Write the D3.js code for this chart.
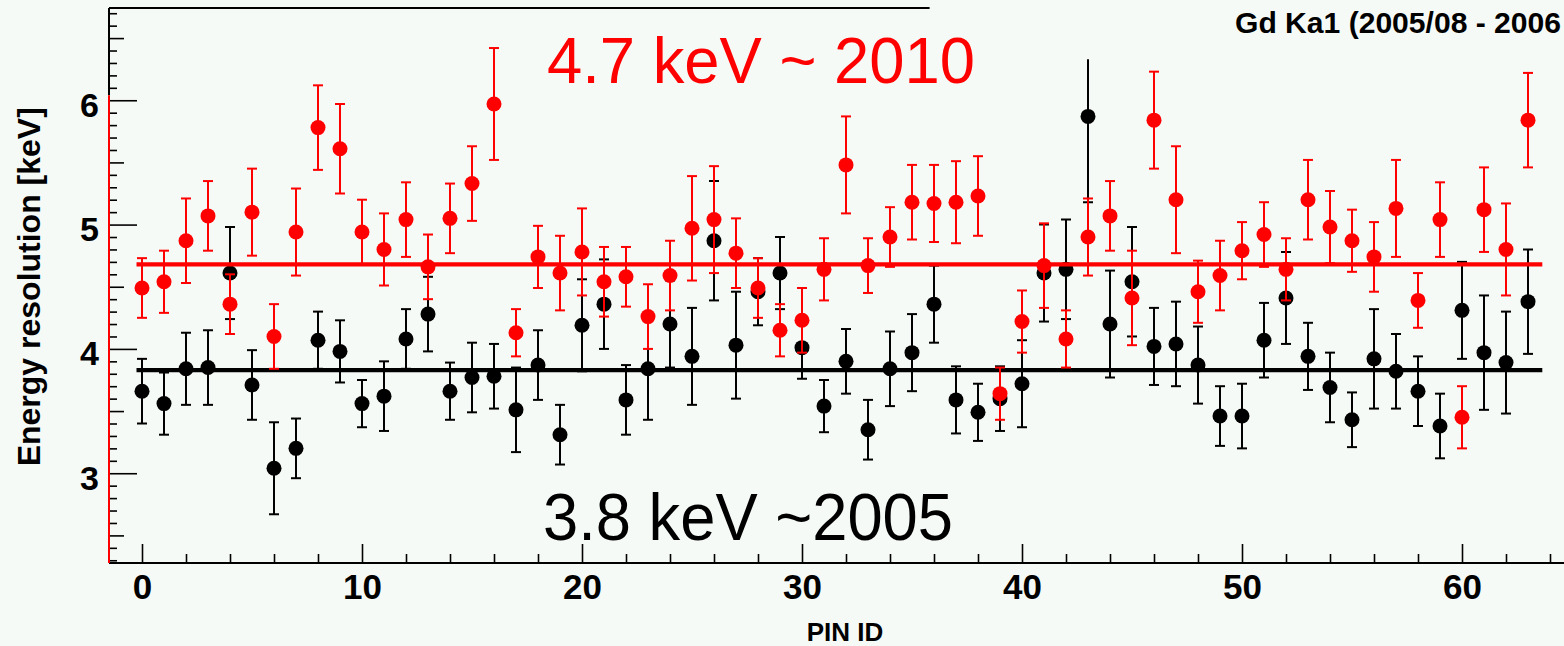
<!DOCTYPE html>
<html>
<head>
<meta charset="utf-8">
<script src="https://cdn.jsdelivr.net/npm/d3@7"></script>
<style>
  html, body { margin: 0; padding: 0; background: #f6faf6; }
  svg { display: block; }
  text { font-family: "Liberation Sans", Arial, Helvetica, sans-serif; }
</style>
</head>
<body>
<svg id="chart" width="1564" height="646"></svg>
<script>
// PIN identifiers (x categories)
const pinIds = [
  0,1,2,3,4,5,6,7,8,9,10,11,12,13,14,15,16,17,18,19,20,21,22,23,24,25,26,27,28,29,30,31,
  32,33,34,35,36,37,38,39,40,41,42,43,44,45,46,47,48,49,50,51,52,53,54,55,56,57,58,59,60,61,62,63
];

// Energy resolution [keV], ~2010 measurement (red)
const res2010 = [
  4.49,4.54,4.87,5.07,4.36,5.10,4.10,4.94,5.78,5.61,
  4.94,4.80,5.04,4.66,5.05,5.33,5.97,4.13,4.74,4.61,
  4.78,4.54,4.58,4.26,4.59,4.97,5.04,4.77,4.49,4.15,
  4.23,4.64,5.48,4.67,4.90,5.18,5.17,5.18,5.23,3.64,
  4.22,4.67,4.08,4.90,5.07,4.41,5.84,5.20,4.46,4.59,
  4.79,4.92,4.64,5.20,4.98,4.87,4.74,5.13,4.39,5.04,
  3.45,5.12,4.80,5.84
];
const err2010 = [
  0.24,0.25,0.34,0.28,0.24,0.35,0.26,0.35,0.34,0.36,
  0.26,0.29,0.30,0.26,0.28,0.30,0.45,0.19,0.25,0.30,
  0.35,0.28,0.24,0.26,0.28,0.42,0.43,0.28,0.24,0.21,
  0.26,0.25,0.39,0.22,0.24,0.30,0.31,0.33,0.32,0.21,
  0.25,0.34,0.23,0.31,0.28,0.38,0.39,0.43,0.25,0.28,
  0.23,0.26,0.25,0.32,0.29,0.25,0.28,0.39,0.22,0.30,
  0.25,0.34,0.37,0.38
];

// Energy resolution [keV], ~2005 measurement (black)
const res2005 = [
  3.66,3.56,3.84,3.85,4.61,3.71,3.04,3.20,4.07,3.98,
  3.56,3.62,4.08,4.28,3.66,3.77,3.78,3.51,3.87,3.31,
  4.19,4.36,3.59,3.84,4.20,3.94,4.87,4.03,4.46,4.61,
  4.01,3.54,3.90,3.35,3.84,3.97,4.36,3.59,3.49,3.60,
  3.72,4.61,4.64,5.87,4.20,4.54,4.02,4.04,3.87,3.46,
  3.46,4.07,4.41,3.94,3.69,3.43,3.92,3.82,3.66,3.38,
  4.31,3.97,3.89,4.38
];
const err2005 = [
  0.26,0.25,0.29,0.30,0.37,0.28,0.37,0.24,0.23,0.25,
  0.19,0.28,0.24,0.30,0.23,0.28,0.26,0.34,0.28,0.24,
  0.37,0.36,0.28,0.41,0.35,0.39,0.48,0.43,0.27,0.29,
  0.25,0.21,0.26,0.24,0.30,0.31,0.31,0.27,0.23,0.26,
  0.35,0.39,0.40,0.69,0.43,0.44,0.31,0.34,0.31,0.24,
  0.26,0.30,0.37,0.27,0.28,0.22,0.40,0.30,0.28,0.26,
  0.39,0.46,0.41,0.42
];

// Constant fits over all PINs
const fit2010 = 4.68;
const fit2005 = 3.83;
const fitRange = [-0.25, 63.65];

// Axis ranges and ticks
const xDomain = [-1.5, 64.5];
const yDomain = [2.278, 6.742];
const xMajorTicks = [0, 10, 20, 30, 40, 50, 60];
const xMinorTicks = [2,4,6,8,12,14,16,18,22,24,26,28,32,34,36,38,42,44,46,48,52,54,56,58,62,64];
const yMajorTicks = [3, 4, 5, 6];
const yHalfTicks = [2.5, 3.5, 4.5, 5.5, 6.5];
const yMinorTicks = [2.3,2.4,2.6,2.7,2.8,2.9,3.1,3.2,3.3,3.4,3.6,3.7,3.8,3.9,4.1,4.2,4.3,4.4,
  4.6,4.7,4.8,4.9,5.1,5.2,5.3,5.4,5.6,5.7,5.8,5.9,6.1,6.2,6.3,6.4,6.6,6.7];

// Where the overlaid 2010 frame begins on the y axis, the 2005 frame's top, and end of the top frame line
const redAxisTop = 6.04;
const frame2005Top = 6.33;
const topFrameEnd = 35.8;

const titleText = "Gd Ka1 (2005/08 - 2006";
const xTitle = "PIN ID";
const yTitle = "Energy resolution [keV]";
const note2010 = "4.7 keV ~ 2010";
const note2005 = "3.8 keV ~2005";

const W = 1564, H = 646;
const FONT = '"Liberation Sans", Arial, Helvetica, sans-serif';
const svg = d3.select("#chart");

const x = d3.scaleLinear().domain(xDomain).range([109, 1561]);
const y = d3.scaleLinear().domain(yDomain).range([563, 8]);

// ---- frame / axes ----
const axisG = svg.append("g");

// x axis: minor ticks, then major ticks with labels
axisG.append("g")
  .attr("transform", `translate(0,${y(yDomain[0])})`)
  .call(d3.axisBottom(x).tickValues(xMinorTicks).tickSize(-9).tickSizeOuter(0).tickFormat(""))
  .call(g => g.select(".domain").remove())
  .call(g => g.selectAll("line").attr("stroke", "#000").attr("stroke-width", 1.6));

axisG.append("g")
  .attr("transform", `translate(0,${y(yDomain[0])})`)
  .call(d3.axisBottom(x).tickValues(xMajorTicks).tickSize(-19).tickSizeOuter(0).tickFormat(d3.format("d")))
  .call(g => g.select(".domain").remove())
  .call(g => g.selectAll("line").attr("stroke", "#000").attr("stroke-width", 1.6))
  .call(g => g.selectAll("text")
    .attr("y", 36).attr("dy", null)
    .attr("fill", "#000")
    .style("font-size", "35px").style("font-weight", "bold")
    .style("font-family", FONT));

axisG.append("line")
  .attr("x1", x(xDomain[0])).attr("x2", W)
  .attr("y1", y(yDomain[0])).attr("y2", y(yDomain[0]))
  .attr("stroke", "#000").attr("stroke-width", 1.8);

// y axis: minor, half and major ticks
const yAxisX = x(xDomain[0]);
[[yMinorTicks, 8], [yHalfTicks, 15]].forEach(([vals, len]) => {
  axisG.append("g")
    .attr("transform", `translate(${yAxisX},0)`)
    .call(d3.axisLeft(y).tickValues(vals).tickSize(-len).tickSizeOuter(0).tickFormat(""))
    .call(g => g.select(".domain").remove())
    .call(g => g.selectAll("line").attr("stroke", "#000").attr("stroke-width", 1.6));
});
axisG.append("g")
  .attr("transform", `translate(${yAxisX},0)`)
  .call(d3.axisLeft(y).tickValues(yMajorTicks).tickSize(-28).tickSizeOuter(0).tickPadding(10).tickFormat(d3.format("d")))
  .call(g => g.select(".domain").remove())
  .call(g => g.selectAll("line").attr("stroke", "#000").attr("stroke-width", 1.6))
  .call(g => g.selectAll("text")
    .attr("dy", 16)
    .attr("fill", "#000")
    .style("font-size", "34px").style("font-weight", "bold")
    .style("font-family", FONT));

// y axis line: black (2005 frame) above, red (2010 frame) below
axisG.append("line")
  .attr("x1", yAxisX).attr("x2", yAxisX)
  .attr("y1", y(yDomain[1])).attr("y2", y(redAxisTop))
  .attr("stroke", "#000").attr("stroke-width", 2);
axisG.append("line")
  .attr("x1", yAxisX).attr("x2", yAxisX)
  .attr("y1", y(redAxisTop)).attr("y2", y(yDomain[0]))
  .attr("stroke", "#ff0000").attr("stroke-width", 2);

// top frame line
axisG.append("line")
  .attr("x1", yAxisX).attr("x2", x(topFrameEnd))
  .attr("y1", y(yDomain[1])).attr("y2", y(yDomain[1]))
  .attr("stroke", "#000").attr("stroke-width", 2.2);

// axis titles
svg.append("text")
  .attr("x", 845).attr("y", 641)
  .attr("text-anchor", "middle")
  .style("font-size", "26px").style("font-weight", "bold")
  .text(xTitle);

svg.append("text")
  .attr("transform", `translate(40,${y(4.5)}) rotate(-90)`)
  .attr("text-anchor", "middle")
  .style("font-size", "32px").style("font-weight", "bold")
  .text(yTitle);

// plot title (top right)
svg.append("text")
  .attr("x", 1235).attr("y", 33)
  .attr("textLength", 326).attr("lengthAdjust", "spacingAndGlyphs")
  .style("font-size", "30px").style("font-weight", "bold")
  .text(titleText);

// ---- data ----
const clip = svg.append("defs").append("clipPath").attr("id", "frame2005");
clip.append("rect")
  .attr("x", 0).attr("y", y(frame2005Top))
  .attr("width", W).attr("height", y(yDomain[0]) - y(frame2005Top));

function drawSeries(g, values, errors, fit, color) {
  g.append("line")
    .attr("x1", x(fitRange[0])).attr("x2", x(fitRange[1]))
    .attr("y1", y(fit)).attr("y2", y(fit))
    .attr("stroke", color).attr("stroke-width", 4.2);

  const pts = g.selectAll("g.pt")
    .data(pinIds.map((p, i) => ({ pin: p, v: values[i], e: errors[i] })))
    .join("g").attr("class", "pt");

  pts.append("line")
    .attr("x1", d => x(d.pin)).attr("x2", d => x(d.pin))
    .attr("y1", d => y(d.v + d.e)).attr("y2", d => y(d.v - d.e))
    .attr("stroke", color).attr("stroke-width", 2);
  pts.append("line")
    .attr("x1", d => x(d.pin) - 5).attr("x2", d => x(d.pin) + 5)
    .attr("y1", d => y(d.v + d.e)).attr("y2", d => y(d.v + d.e))
    .attr("stroke", color).attr("stroke-width", 2);
  pts.append("line")
    .attr("x1", d => x(d.pin) - 5).attr("x2", d => x(d.pin) + 5)
    .attr("y1", d => y(d.v - d.e)).attr("y2", d => y(d.v - d.e))
    .attr("stroke", color).attr("stroke-width", 2);
  pts.append("circle")
    .attr("cx", d => x(d.pin)).attr("cy", d => y(d.v))
    .attr("r", 7.5).attr("fill", color);
}

drawSeries(svg.append("g").attr("clip-path", "url(#frame2005)"), res2005, err2005, fit2005, "#000000");
drawSeries(svg.append("g"), res2010, err2010, fit2010, "#ff0000");

// ---- annotations ----
svg.append("text")
  .attr("x", 547).attr("y", 83)
  .attr("fill", "#ff0000")
  .attr("textLength", 428).attr("lengthAdjust", "spacingAndGlyphs")
  .style("font-size", "64px")
  .text(note2010);

svg.append("text")
  .attr("x", 543).attr("y", 540)
  .attr("fill", "#000")
  .attr("textLength", 410).attr("lengthAdjust", "spacingAndGlyphs")
  .style("font-size", "66px")
  .text(note2005);
</script>
</body>
</html>
